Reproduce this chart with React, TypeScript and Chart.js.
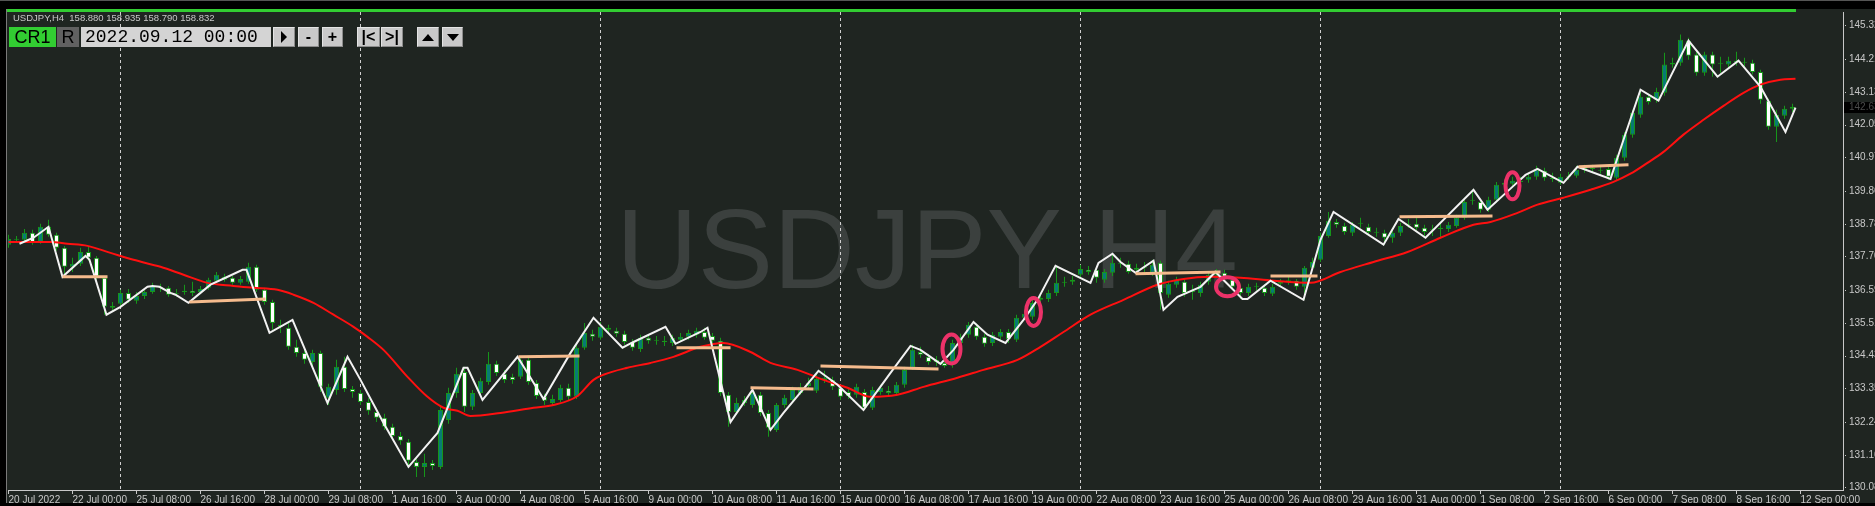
import React, { useEffect, useRef } from "react";
import { Chart, registerables } from "chart.js";

Chart.register(...registerables);

// ---------------- DATA ----------------
const opens = [
  138.09,138.28,138.25,138.48,138.18,138.68,138.42,137.99,137.36,137.46,
  137.85,137.66,137.00,136.07,136.14,136.50,136.24,136.40,136.53,136.70,
  136.67,136.47,136.53,136.57,136.53,136.67,136.90,136.93,137.00,136.83,
  136.87,137.36,136.60,136.20,135.45,135.35,134.72,134.52,134.22,134.52,
  133.04,133.30,134.06,133.33,133.20,132.90,132.57,132.38,132.08,131.78,
  131.59,130.92,130.76,130.89,130.76,132.31,133.20,133.89,132.74,133.20,
  133.56,134.16,133.83,133.73,133.73,134.29,133.53,133.07,132.87,132.97,
  133.37,133.07,134.69,135.15,135.02,135.35,135.25,135.15,134.88,134.65,
  135.02,134.95,134.92,134.85,134.95,135.05,135.12,135.21,135.08,134.92,
  133.14,132.57,132.87,132.80,133.14,132.54,131.98,132.80,132.97,133.20,
  133.43,133.27,133.63,133.63,133.37,133.23,133.14,133.23,132.71,133.23,
  133.27,133.20,133.47,134.03,134.55,134.39,134.22,134.19,134.13,134.85,
  135.12,135.38,135.05,134.85,135.05,135.21,134.95,135.68,135.71,136.27,
  136.30,136.50,136.83,136.87,137.10,137.26,137.26,136.93,137.16,137.49,
  137.46,137.26,137.33,137.16,137.49,136.44,136.77,136.87,136.53,136.50,
  136.87,137.10,137.16,136.93,136.67,136.50,136.70,136.67,136.47,136.80,
  136.90,136.90,136.70,137.33,137.59,138.38,138.84,138.71,138.48,138.78,
  138.68,138.51,138.48,138.32,138.48,138.75,138.78,138.65,138.58,138.61,
  138.61,138.71,138.98,139.54,139.50,139.24,139.57,140.07,140.10,140.16,
  140.23,140.33,140.53,140.30,140.13,140.33,140.36,140.56,140.63,140.56,
  140.59,140.30,140.96,141.72,142.38,142.97,142.87,143.10,144.03,144.09,
  144.82,144.36,143.76,144.36,144.06,144.03,144.12,144.12,144.09,143.79,
  142.84,141.98,142.34,142.57,
];
const highs = [
  138.42,138.38,138.61,138.58,138.78,138.91,138.48,138.05,137.66,137.99,
  138.02,137.72,137.06,136.20,136.60,136.63,136.53,136.60,136.83,136.80,
  136.73,136.63,136.77,136.87,136.73,137.00,137.19,137.13,137.06,137.06,
  137.49,137.43,136.67,136.27,135.61,135.54,134.95,134.65,134.62,134.59,
  133.50,134.29,134.39,133.43,133.30,133.04,132.71,132.51,132.18,131.91,
  131.68,131.02,131.19,130.99,132.80,133.37,134.03,134.06,133.30,133.70,
  134.55,134.26,133.96,133.83,134.39,134.36,133.63,133.17,133.14,133.47,
  133.50,134.79,135.51,135.28,135.54,135.45,135.35,135.25,134.98,135.12,
  135.12,135.08,135.08,135.12,135.18,135.28,135.35,135.35,135.18,135.02,
  133.23,133.04,133.10,133.33,133.23,132.64,132.87,133.14,133.40,133.53,
  133.70,133.89,133.93,133.73,133.47,133.33,133.50,133.33,133.40,133.47,
  133.43,133.56,134.06,134.79,134.72,134.49,134.42,134.32,134.95,135.15,
  135.54,135.48,135.15,135.21,135.31,135.31,135.78,135.94,136.27,136.47,
  136.60,137.39,137.03,137.06,137.43,137.39,137.36,137.29,137.79,137.66,
  137.56,137.46,137.52,137.59,137.56,136.90,137.03,136.96,136.77,136.87,
  137.19,137.29,137.26,137.03,136.77,136.80,136.83,136.77,136.80,136.96,
  137.03,136.96,137.39,137.66,138.48,139.17,138.94,138.81,138.84,138.98,
  138.78,138.65,138.58,138.58,138.81,138.94,138.98,138.75,138.75,138.78,
  138.84,139.08,139.64,139.90,139.60,139.67,140.16,140.23,140.33,140.33,
  140.46,140.69,140.63,140.46,140.43,140.49,140.69,140.73,140.73,140.69,
  140.69,141.06,141.81,142.54,143.20,143.07,143.27,144.42,144.26,145.02,
  144.92,144.45,144.45,144.45,144.29,144.29,144.45,144.26,144.19,143.86,
  142.90,142.54,142.67,142.74,
];
const lows = [
  137.99,138.15,138.18,138.09,138.12,138.35,137.89,137.03,137.19,137.39,
  137.56,136.93,135.78,135.87,136.07,136.17,136.14,136.30,136.47,136.53,
  136.37,136.37,136.44,136.40,136.47,136.60,136.83,136.87,136.77,136.77,
  136.80,136.53,136.11,135.28,135.18,134.62,134.39,134.16,134.09,133.23,
  132.80,133.14,133.23,133.04,132.80,132.48,132.24,131.98,131.65,131.49,
  130.79,130.43,130.43,130.66,130.69,132.18,133.04,132.57,132.64,133.10,
  133.47,133.76,133.53,133.50,133.66,133.47,133.00,132.80,132.77,132.90,
  132.97,133.00,134.62,134.92,134.95,135.18,135.05,134.79,134.59,134.55,
  134.82,134.79,134.75,134.75,134.88,134.95,135.02,134.95,134.82,133.10,
  132.08,132.48,132.77,132.71,132.44,131.75,131.91,132.71,132.90,133.14,
  133.33,133.20,133.53,133.30,132.97,133.00,133.04,132.64,132.64,133.14,
  133.10,133.10,133.37,133.96,134.36,134.13,134.09,134.03,134.03,134.75,
  135.02,134.95,134.72,134.75,134.95,134.85,134.88,135.61,135.61,136.17,
  136.20,136.40,136.70,136.77,137.00,137.10,136.83,136.83,137.06,137.33,
  137.13,137.16,137.19,137.06,135.94,136.34,136.67,136.37,136.27,136.37,
  136.77,137.03,136.93,136.60,136.30,136.40,136.57,136.40,136.40,136.70,
  136.77,136.60,136.27,137.26,137.52,138.32,138.65,138.42,138.38,138.65,
  138.42,138.35,138.09,138.15,138.38,138.65,138.55,138.38,138.38,138.32,
  138.51,138.65,138.91,139.41,139.14,139.17,139.47,139.97,140.03,140.03,
  140.13,140.23,140.20,140.16,140.07,140.23,140.30,140.46,140.46,140.43,
  140.23,140.23,140.86,141.62,142.28,142.71,142.77,143.00,143.93,143.99,
  144.19,143.66,143.66,143.63,143.76,143.93,143.99,143.96,143.70,142.74,
  141.88,141.48,142.24,142.47,
];
const closes = [
  138.28,138.25,138.48,138.18,138.68,138.42,137.99,137.36,137.46,137.85,
  137.66,137.03,136.04,136.01,136.50,136.27,136.40,136.53,136.73,136.67,
  136.44,136.50,136.57,136.50,136.63,136.93,137.10,137.03,136.83,136.96,
  137.36,136.60,136.20,135.51,135.38,134.72,134.52,134.29,134.52,133.40,
  133.40,134.06,133.33,133.23,132.90,132.61,132.38,132.08,131.78,131.62,
  130.96,130.76,130.89,130.79,132.64,133.20,133.83,132.74,133.20,133.60,
  134.16,133.86,133.63,133.63,134.29,133.56,133.10,132.94,133.00,133.37,
  133.07,134.69,135.18,135.05,135.38,135.28,135.15,134.88,134.69,135.02,
  134.92,134.92,134.88,135.02,135.05,135.18,135.25,135.02,134.92,133.20,
  132.57,132.87,132.97,133.20,132.54,132.05,132.80,133.04,133.30,133.40,
  133.53,133.66,133.70,133.40,133.07,133.10,133.40,132.71,133.30,133.37,
  133.20,133.47,133.96,134.62,134.46,134.22,134.29,134.09,134.85,135.05,
  135.45,135.05,134.82,135.12,135.21,134.98,135.68,135.81,136.17,136.34,
  136.50,136.83,136.87,136.93,137.29,137.19,137.00,137.19,137.49,137.46,
  137.19,137.33,137.36,137.43,136.50,136.80,136.93,136.50,136.57,136.77,
  137.10,137.16,137.03,136.70,136.50,136.70,136.73,136.50,136.70,136.87,
  136.93,136.70,137.33,137.52,138.38,138.88,138.75,138.51,138.75,138.81,
  138.51,138.48,138.32,138.48,138.71,138.78,138.65,138.51,138.61,138.65,
  138.75,138.98,139.50,139.57,139.24,139.57,140.07,140.13,140.20,140.20,
  140.33,140.56,140.30,140.26,140.33,140.36,140.56,140.63,140.59,140.53,
  140.33,140.96,141.72,142.44,142.97,142.80,143.13,144.03,144.09,144.85,
  144.32,143.76,144.36,144.03,144.09,144.16,144.16,144.09,143.79,142.87,
  141.98,142.38,142.57,142.64,
];

// white swing line (bar index, price)
const swingIdx = [
  1.375,3.125,5,6.75,9.625,10.125,12.25,14,17.375,18,
  18.875,20.25,20.875,22.5,24,25.25,27.125,29.25,29.75,32.625,
  35.5,39.875,42.375,44,46.875,50,52.125,53.625,56.875,57.375,
  59.25,63.625,65.25,66.875,70.25,73.125,76.75,78.125,82.125,83.375,
  86.5,87.375,90.25,93,95.25,96.875,101.25,103.625,106.875,110.25,
  112.75,114,116.5,118.125,120.625,122.375,124.625,126.875,128.625,130.875,
  135.25,136.25,138,139,140.875,143.125,144.375,146.125,149,150.875,
  154.25,154.875,157.75,161.875,164,165.625,171.875,173.75,177.125,183.125,
  184.875,188.125,189.625,191.125,194.375,196.125,200.25,201.875,204,206.25,
  210,213.625,216.25,219,222.125,223.375,
];
const swingPrice = [
  138.12,138.32,138.68,137.03,137.72,137.59,135.78,136.04,136.70,136.73,
  136.70,136.50,136.44,136.17,136.50,136.77,137.00,137.26,137.26,135.18,
  135.61,132.87,134.39,133.63,132.21,130.76,131.42,131.88,134.03,134.03,
  132.97,134.39,133.70,133.00,134.52,135.68,134.69,134.88,135.38,134.82,
  135.21,135.35,132.24,133.30,131.98,132.54,133.93,133.47,132.64,133.86,
  134.75,134.62,134.16,134.62,135.54,135.12,134.85,135.61,136.27,137.39,
  136.83,137.49,137.79,137.52,137.16,137.56,135.94,136.37,136.70,137.19,
  136.30,136.30,136.90,136.27,138.25,139.17,138.09,138.94,138.32,139.90,
  139.24,140.03,140.39,140.59,140.13,140.66,140.26,141.55,143.20,142.84,
  144.82,143.63,144.16,143.30,141.81,142.61,
];

// red moving average (bar index, price)
const maIdx = [
  0,5.25,7.375,9.875,12.75,15.625,19,21.875,24.875,28.125,
  30.625,33.625,35.625,38.125,40.625,43.125,44.875,46.875,49.875,52.375,
  54.375,56.125,57.75,61.5,65.625,68.125,71.125,73.125,74.375,77.375,
  80.25,83.125,86.5,89.375,92.75,95.25,98.625,101.875,104.875,107.75,
  111.125,114.375,118.625,121.875,126.125,129,131.875,135.25,139.375,143.625,
  146.875,150.25,154,158.125,162.75,166.5,170.625,174.875,179,183.125,
  185.25,188.625,191.125,194.375,197.75,200.625,202.75,204.875,206.875,209.375,
  211.875,214.375,216.875,219,221.5,223.375,
];
const maPrice = [
  138.18,138.18,138.12,138.05,137.82,137.59,137.36,137.10,136.83,136.73,
  136.67,136.60,136.44,136.17,135.78,135.38,135.05,134.62,133.73,133.07,
  132.71,132.61,132.44,132.54,132.71,132.80,133.10,133.63,133.80,134.03,
  134.19,134.39,134.72,134.85,134.55,134.19,133.96,133.63,133.37,133.07,
  133.14,133.40,133.70,133.96,134.29,134.72,135.21,135.78,136.27,136.77,
  136.96,137.03,137.00,136.90,136.83,137.19,137.52,137.85,138.32,138.75,
  138.84,139.14,139.41,139.64,139.90,140.16,140.43,140.79,141.15,141.72,
  142.21,142.67,143.10,143.37,143.53,143.56,
];

// orange level segments
const levelStartIdx = [6.75,22.625,63.75,83.5,92.75,101.5,140.875,157.75,173.875,196.25];
const levelEndIdx = [12.375,32.125,71.375,90.25,100.625,116.25,151.5,163.625,185.5,202.5];
const levelStartPrice = [137.03,136.20,134.39,134.69,133.37,134.09,137.13,137.06,139.01,140.66];
const levelEndPrice = [137.03,136.30,134.42,134.69,133.33,133.99,137.19,137.06,139.04,140.73];

// pink marks (bar index, price)
const markIdx = [117.875,128.125,152.375,188];
const markPrice = [134.65,135.87,136.70,140.03];

// weekly period separators (bar index)
const weekIdx = [14,44,74,104,134,164,194];

// time axis
const timeTickIdx = [0,8,16,24,32,40,48,56,64,72,80,88,96,104,112,120,128,136,144,152,160,168,176,184,192,200,208,216,224];
const timeTickLabels = [
  "20 Jul 2022","22 Jul 00:00","25 Jul 08:00","26 Jul 16:00","28 Jul 00:00","29 Jul 08:00",
  "1 Aug 16:00","3 Aug 00:00","4 Aug 08:00","5 Aug 16:00","9 Aug 00:00","10 Aug 08:00",
  "11 Aug 16:00","15 Aug 00:00","16 Aug 08:00","17 Aug 16:00","19 Aug 00:00","22 Aug 08:00",
  "23 Aug 16:00","25 Aug 00:00","26 Aug 08:00","29 Aug 16:00","31 Aug 00:00","1 Sep 08:00",
  "2 Sep 16:00","6 Sep 00:00","7 Sep 08:00","8 Sep 16:00","12 Sep 00:00",
];
// price axis
const priceTicks = [145.32,144.21,143.13,142.05,140.97,139.86,138.78,137.70,136.59,135.51,134.43,133.35,132.24,131.16,130.08];
const lastPrice = 142.63;

// ---------------- STYLE ----------------
const W = 1875;
const H = 506;
const BG = "#1f2521";
const WATERMARK = "#3b403e";
const WICK = "#16961a";
const BULL = "#087a74";
const BEAR = "#ffffff";
const AXIS = "#c8c8c8";
const X_MIN = -0.0625;
const X_MAX = 229.3125;
const Y_MIN = 129.9975;
const Y_MAX = 145.7653;
const markRx = [9, 7.5, 11.5, 7];
const markRy = [14.5, 14, 9.5, 13.5];
const FONT = '"Liberation Sans", Arial, sans-serif';

const n = Math.min(opens.length, highs.length, lows.length, closes.length);

const levelData: any[] = [];
for (let k = 0; k < levelStartIdx.length; k++) {
  levelData.push({ x: levelStartIdx[k], y: levelStartPrice[k] });
  levelData.push({ x: levelEndIdx[k], y: levelEndPrice[k] });
  levelData.push({ x: levelEndIdx[k] + 0.01, y: null });
}

const decorPlugin = {
  id: "decor",
  beforeDraw(chart: any) {
    const ctx = chart.ctx;
    ctx.save();
    ctx.fillStyle = "#000";
    ctx.fillRect(0, 0, W, H);
    ctx.fillStyle = "#555";
    ctx.fillRect(0, 0, W, 1);
    ctx.fillStyle = BG;
    ctx.fillRect(7, 9, W - 7, 494);
    ctx.fillStyle = "#32cd32";
    ctx.fillRect(7, 9, 1796 - 7, 3);
    ctx.fillStyle = "#7a7a7a";
    ctx.fillRect(6, 9, 1, 494);
    ctx.restore();
  },
  beforeDatasetsDraw(chart: any) {
    const ctx = chart.ctx;
    const xs = chart.scales.x;
    const area = chart.chartArea;
    ctx.save();
    ctx.font = '113px "Liberation Sans", Arial, sans-serif';
    ctx.fillStyle = WATERMARK;
    ctx.textAlign = "center";
    ctx.textBaseline = "alphabetic";
    ctx.fillText("USDJPY H4", 927, 288);
    ctx.strokeStyle = "#cfcfcf";
    ctx.lineWidth = 1;
    ctx.setLineDash([3, 3]);
    for (const w of weekIdx) {
      const px = Math.floor(xs.getPixelForValue(w)) + 0.5;
      ctx.beginPath();
      ctx.moveTo(px, 12);
      ctx.lineTo(px, area.bottom);
      ctx.stroke();
    }
    ctx.restore();
  },
  afterDatasetsDraw(chart: any) {
    const ctx = chart.ctx;
    const xs = chart.scales.x;
    const ys = chart.scales.y;
    ctx.save();
    ctx.strokeStyle = "#ec3269";
    ctx.lineWidth = 4;
    for (let k = 0; k < markIdx.length; k++) {
      ctx.beginPath();
      ctx.ellipse(xs.getPixelForValue(markIdx[k]), ys.getPixelForValue(markPrice[k]), markRx[k], markRy[k], 0, 0, Math.PI * 2);
      ctx.stroke();
    }
    ctx.restore();
  },
  afterDraw(chart: any) {
    const ctx = chart.ctx;
    const ys = chart.scales.y;
    ctx.save();
    ctx.fillStyle = AXIS;
    for (const p of priceTicks) {
      const py = Math.round(ys.getPixelForValue(p));
      ctx.fillRect(1845, py, 1, 1);
    }
    const ly = Math.round(ys.getPixelForValue(lastPrice));
    ctx.fillStyle = "#000";
    ctx.fillRect(1844, ly - 5, W - 1844, 11);
    ctx.fillStyle = "#4a4a4a";
    ctx.font = "10px " + FONT;
    ctx.textBaseline = "middle";
    ctx.textAlign = "left";
    ctx.fillText(lastPrice.toFixed(2), 1849, ly + 0.5);
    ctx.fillStyle = "#000";
    ctx.fillRect(0, 503, W, 3);
    ctx.restore();
  },
};

const btn: any = {
  position: "absolute",
  top: 27,
  height: 20,
  boxSizing: "border-box",
  display: "flex",
  alignItems: "center",
  justifyContent: "center",
  color: "#000",
  fontFamily: FONT,
  background: "#c9c9c9",
  borderStyle: "solid",
  borderWidth: 1,
  borderColor: "#e4e4e4 #8c8c8c #8c8c8c #e4e4e4",
  fontWeight: 700,
  fontSize: 16,
  lineHeight: "18px",
};

export default function App() {
  const ref = useRef<HTMLCanvasElement | null>(null);

  useEffect(() => {
    document.body.style.margin = "0";
    document.body.style.background = "#000";
    const canvas = ref.current;
    if (!canvas) return;
    const wickData: any[] = [];
    const bodyData: any[] = [];
    const bodyColors: string[] = [];
    for (let i = 0; i < n; i++) {
      wickData.push({ x: i, y: [lows[i], highs[i]] });
      bodyData.push({ x: i, y: [opens[i], closes[i]] });
      bodyColors.push(closes[i] >= opens[i] ? BULL : BEAR);
    }
    const chart = new Chart(canvas, {
      type: "bar",
      data: {
        datasets: [
          {
            type: "bar",
            data: wickData,
            backgroundColor: WICK,
            borderWidth: 0,
            barThickness: 1,
            grouped: false,
            inflateAmount: 0,
            order: 10,
          } as any,
          {
            type: "bar",
            data: bodyData,
            backgroundColor: bodyColors,
            borderColor: WICK,
            borderWidth: 1,
            borderSkipped: false,
            barThickness: 5,
            minBarLength: 1,
            grouped: false,
            inflateAmount: 0,
            order: 9,
          } as any,
          {
            type: "line",
            data: maIdx.map((x, k) => ({ x, y: maPrice[k] })),
            borderColor: "#ff1010",
            borderWidth: 2,
            pointRadius: 0,
            cubicInterpolationMode: "monotone",
            order: 4,
          } as any,
          {
            type: "line",
            data: swingIdx.map((x, k) => ({ x, y: swingPrice[k] })),
            borderColor: "#f2f2f2",
            borderWidth: 2,
            pointRadius: 0,
            tension: 0,
            order: 3,
          } as any,
          {
            type: "line",
            data: levelData,
            borderColor: "#f5bb8d",
            borderWidth: 3,
            pointRadius: 0,
            spanGaps: false,
            order: 2,
          } as any,
        ],
      },
      options: {
        responsive: false,
        animation: false,
        devicePixelRatio: 1,
        events: [],
        layout: { padding: { left: 8, top: 12, right: 0, bottom: 0 } },
        plugins: { legend: { display: false }, tooltip: { enabled: false } },
        scales: {
          x: {
            type: "linear",
            position: "bottom",
            min: X_MIN,
            max: X_MAX,
            offset: false,
            grid: {
              display: true,
              offset: false,
              drawOnChartArea: false,
              drawTicks: true,
              tickLength: 4,
              color: AXIS,
            },
            border: { display: true, color: AXIS, width: 1 },
            ticks: {
              autoSkip: false,
              maxRotation: 0,
              minRotation: 0,
              align: "start",
              padding: 0,
              color: AXIS,
              font: { family: FONT, size: 10 },
              callback: (_v: any, i: number) => timeTickLabels[i],
            },
            afterBuildTicks: (s: any) => {
              s.ticks = timeTickIdx.map((v) => ({ value: v }));
            },
            afterFit: (s: any) => {
              s.height = 16;
              s.paddingLeft = 0;
              s.paddingRight = 0;
            },
          },
          y: {
            type: "linear",
            position: "right",
            min: Y_MIN,
            max: Y_MAX,
            grid: { display: false, drawTicks: false },
            border: { display: true, color: AXIS, width: 1 },
            ticks: {
              padding: 6,
              color: AXIS,
              font: { family: FONT, size: 10 },
              callback: (v: any) => Number(v).toFixed(2),
            },
            afterBuildTicks: (s: any) => {
              s.ticks = priceTicks.map((v) => ({ value: v }));
            },
            afterFit: (s: any) => {
              s.width = 32;
              s.paddingTop = 0;
              s.paddingBottom = 0;
            },
          },
        },
      } as any,
      plugins: [decorPlugin],
    });
    return () => chart.destroy();
  }, []);

  return (
    <div style={{ position: "fixed", left: 0, top: 0, width: W, height: H, background: "#000", overflow: "hidden" }}>
      <canvas ref={ref} width={W} height={H} style={{ position: "absolute", left: 0, top: 0, width: W, height: H }} />
      <div style={{ position: "absolute", left: 13, top: 12, fontFamily: FONT, fontSize: 9.5, lineHeight: "11px", color: "#c8c8c8", whiteSpace: "pre" }}>
        {"USDJPY,H4  158.880 158.935 158.790 158.832"}
      </div>
      <div style={{ ...btn, left: 9, width: 47, background: "#32cd32", border: "none", fontWeight: 400, fontSize: 18 }}>CR1</div>
      <div style={{ ...btn, left: 57, width: 22, background: "#616161", border: "none", fontWeight: 400, fontSize: 18 }}>R</div>
      <div style={{ ...btn, left: 81, width: 190, background: "#d4d4d4", border: "none", fontWeight: 400, fontSize: 18, fontFamily: '"Liberation Mono", monospace', justifyContent: "flex-start", paddingLeft: 4 }}>2022.09.12 00:00</div>
      <div style={{ ...btn, left: 273, width: 22 }}>
        <div style={{ width: 0, height: 0, borderTop: "6px solid transparent", borderBottom: "6px solid transparent", borderLeft: "6px solid #000" }} />
      </div>
      <div style={{ ...btn, left: 298, width: 21 }}>-</div>
      <div style={{ ...btn, left: 322, width: 21 }}>+</div>
      <div style={{ ...btn, left: 357, width: 23 }}>|&lt;</div>
      <div style={{ ...btn, left: 381, width: 22 }}>&gt;|</div>
      <div style={{ ...btn, left: 417, width: 22 }}>
        <div style={{ width: 0, height: 0, borderLeft: "6px solid transparent", borderRight: "6px solid transparent", borderBottom: "7px solid #000" }} />
      </div>
      <div style={{ ...btn, left: 442, width: 21 }}>
        <div style={{ width: 0, height: 0, borderLeft: "6px solid transparent", borderRight: "6px solid transparent", borderTop: "7px solid #000" }} />
      </div>
    </div>
  );
}
